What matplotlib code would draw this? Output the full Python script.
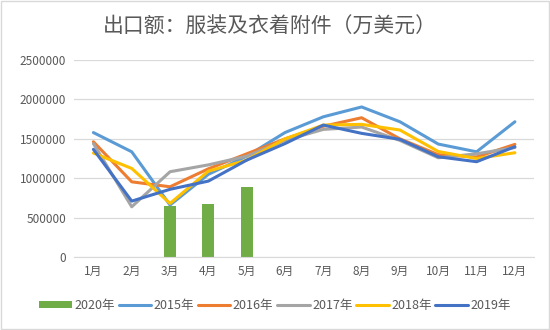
import matplotlib.pyplot as plt
import numpy as np

plt.rcParams['font.family'] = ['Noto Sans CJK SC', 'DejaVu Sans']

months = ['1月', '2月', '3月', '4月', '5月', '6月', '7月', '8月', '9月', '10月', '11月', '12月']
y2015 = [1580000, 1336000, 660000, 1050000, 1280000, 1580000, 1780000, 1905000, 1717000, 1434000, 1336000, 1717000]
y2016 = [1463000, 955000, 892000, 1120000, 1310000, 1500000, 1660000, 1768000, 1500000, 1300000, 1270000, 1430000]
y2017 = [1440000, 638000, 1083000, 1170000, 1280000, 1480000, 1620000, 1650000, 1480000, 1260000, 1310000, 1390000]
y2018 = [1320000, 1125000, 681000, 1090000, 1230000, 1500000, 1675000, 1684000, 1612000, 1340000, 1250000, 1324000]
y2019 = [1367000, 710000, 860000, 964000, 1230000, 1440000, 1675000, 1570000, 1494000, 1273000, 1210000, 1400000]
bar_months = ['3月', '4月', '5月']
y2020 = [651000, 669000, 892000]

series = [('2015年', y2015, '#5B9BD5'),
          ('2016年', y2016, '#ED7D31'),
          ('2017年', y2017, '#A5A5A5'),
          ('2018年', y2018, '#FFC000'),
          ('2019年', y2019, '#4472C4')]

fig = plt.figure(figsize=(5.5, 3.3), dpi=100)
ax = fig.add_axes([0.135, 0.221, 0.836, 0.597])

x = np.arange(len(months))
bx = [months.index(m) for m in bar_months]
ax.bar(bx, y2020, width=0.31, color='#70AD47', label='2020年', zorder=2)
for name, vals, col in series:
    ax.plot(x, vals, color=col, lw=2.2, label=name, zorder=3, solid_capstyle='round')

ax.set_xlim(-0.5, 11.5)
ax.set_ylim(0, 2500000)
ax.set_yticks(np.arange(0, 2500001, 500000))
ax.set_yticklabels([str(v) for v in range(0, 2500001, 500000)])
ax.set_xticks(x)
ax.set_xticklabels(months)
ax.grid(axis='y', color='#D9D9D9', lw=0.9, zorder=0)
ax.tick_params(length=0, labelsize=8.5, colors='#595959', pad=6)
for s in ['top', 'right', 'left']:
    ax.spines[s].set_visible(False)
ax.spines['bottom'].set_color('#D9D9D9')

fig.text(0.49, 0.918, '出口额：服装及衣着附件（万美元）', ha='center', va='center',
         fontsize=15, color='#595959')
handles, labels = ax.get_legend_handles_labels()
order = [labels.index('2020年')] + [i for i, l in enumerate(labels) if l != '2020年']
fig.legend([handles[i] for i in order], [labels[i] for i in order],
           loc='center', bbox_to_anchor=(0.5, 0.075), ncol=6, frameon=False,
           fontsize=9, handlelength=2.6, handletextpad=0.2, columnspacing=0.3,
           labelcolor='#595959', handleheight=0.5)
fig.patches.append(plt.Rectangle((0.002, 0.003), 0.996, 0.994, transform=fig.transFigure,
                                 fill=False, ec='#D9D9D9', lw=1))
fig.savefig('out.png', dpi=100)
